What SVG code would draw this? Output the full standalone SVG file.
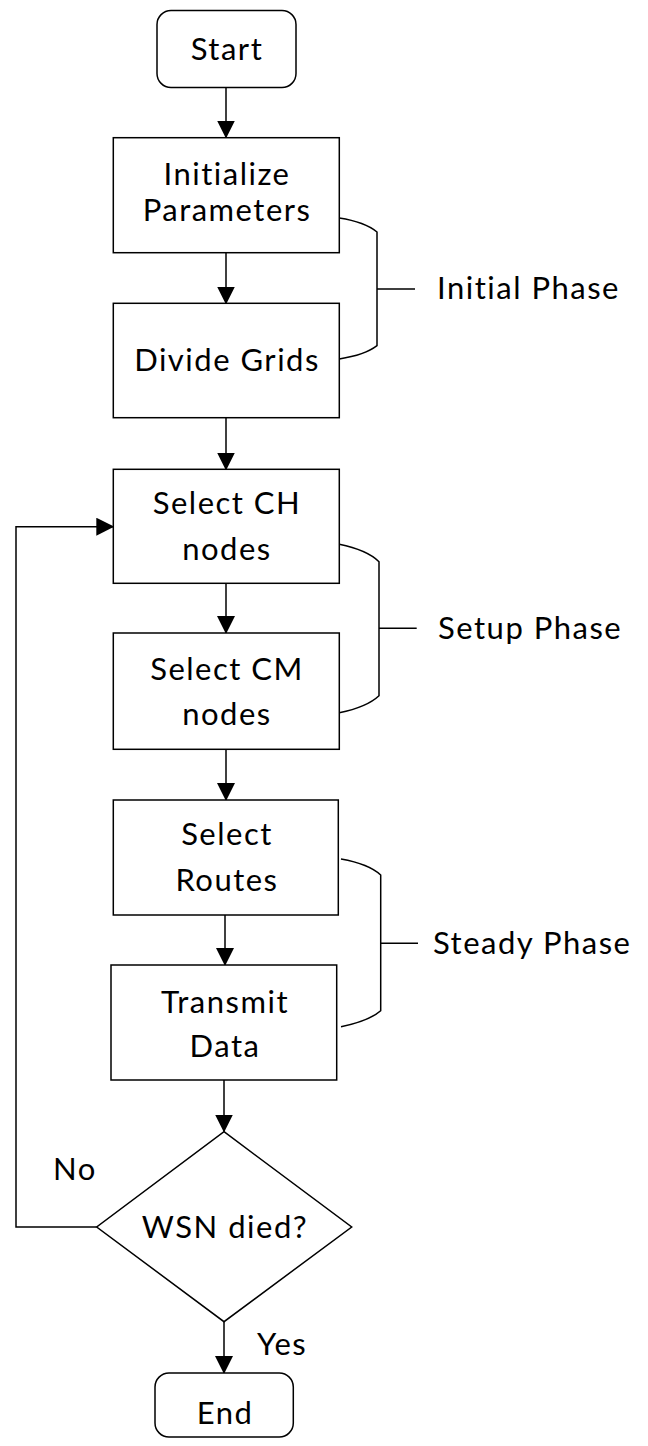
<svg xmlns="http://www.w3.org/2000/svg" width="648" height="1446" viewBox="0 0 648 1446">
<style>
.shape{fill:#fff;stroke:#000;stroke-width:1.5}
.line{fill:none;stroke:#000;stroke-width:1.5}
text{font-family:Lato,"Open Sans","Liberation Sans",sans-serif;font-size:31px;letter-spacing:1.5px;fill:#000}
.c{text-anchor:middle}
</style>
<defs>
<marker id="arr" markerUnits="userSpaceOnUse" markerWidth="18" markerHeight="18" refX="17" refY="9" orient="auto">
<path d="M0,0 L18,9 L0,18 z" fill="#000"/>
</marker>
</defs>
<rect width="648" height="1446" fill="#fff"/>
<g id="connectors">
<line class="line" x1="226" y1="87" x2="226" y2="137.5" marker-end="url(#arr)"/>
<line class="line" x1="226" y1="253" x2="226" y2="303.5" marker-end="url(#arr)"/>
<line class="line" x1="226" y1="418" x2="226" y2="469.5" marker-end="url(#arr)"/>
<line class="line" x1="226" y1="583.5" x2="226" y2="633" marker-end="url(#arr)"/>
<line class="line" x1="226" y1="749.5" x2="226" y2="800" marker-end="url(#arr)"/>
<line class="line" x1="225" y1="915" x2="225" y2="965" marker-end="url(#arr)"/>
<line class="line" x1="224" y1="1080" x2="224" y2="1131.5" marker-end="url(#arr)"/>
<line class="line" x1="224" y1="1322" x2="224" y2="1373" marker-end="url(#arr)"/>
<path class="line" d="M96.7,1227 H16 V526.7 H113.3" marker-end="url(#arr)"/>
<text x="53" y="1180">No</text>
<text x="257" y="1355">Yes</text>
</g>
<g id="start"><rect class="shape" x="157" y="10.5" width="139" height="77" rx="14"/><text class="c" x="227" y="60">Start</text></g>
<g id="init"><rect class="shape" x="113.3" y="137.7" width="226" height="115"/><text class="c" x="227" y="185">Initialize</text><text class="c" x="227" y="221">Parameters</text></g>
<g id="divide"><rect class="shape" x="113.3" y="303.3" width="226" height="114.4"/><text class="c" x="227" y="370.7">Divide Grids</text></g>
<g id="selectCH"><rect class="shape" x="113.3" y="469.3" width="226" height="114"/><text class="c" x="227" y="514.3">Select CH</text><text class="c" x="227" y="560">nodes</text></g>
<g id="selectCM"><rect class="shape" x="113.3" y="633" width="226" height="116.3"/><text class="c" x="227" y="680">Select CM</text><text class="c" x="227" y="725">nodes</text></g>
<g id="routes"><rect class="shape" x="113.3" y="800" width="225" height="115"/><text class="c" x="227" y="845">Select</text><text class="c" x="227" y="891">Routes</text></g>
<g id="transmit"><rect class="shape" x="111" y="965" width="225.7" height="115"/><text class="c" x="225" y="1013">Transmit</text><text class="c" x="225" y="1057">Data</text></g>
<g id="decision"><path class="shape" d="M224,1131.7 L351.7,1227 L224,1321.7 L96.7,1227 Z"/><text class="c" x="225" y="1238">WSN died?</text></g>
<g id="end"><rect class="shape" x="155" y="1373" width="138.3" height="64" rx="14"/><text class="c" x="225" y="1424">End</text></g>
<g id="initialPhase">
<path class="line" d="M339.3,218 Q365,222 377,232 V345.7 Q365,355 339.3,359 M377,289 H415"/>
<text x="437" y="299">Initial Phase</text>
</g>
<g id="setupPhase">
<path class="line" d="M339.3,544.3 Q367,550 379,561.7 V695.7 Q367,707 339.3,712.7 M379,628.3 H416.7"/>
<text x="438" y="639">Setup Phase</text>
</g>
<g id="steadyPhase">
<path class="line" d="M341,859 Q369,864 380.7,875 V1010.7 Q369,1021 341,1026.7 M380.7,943.3 H418"/>
<text x="433" y="954">Steady Phase</text>
</g>
</svg>
